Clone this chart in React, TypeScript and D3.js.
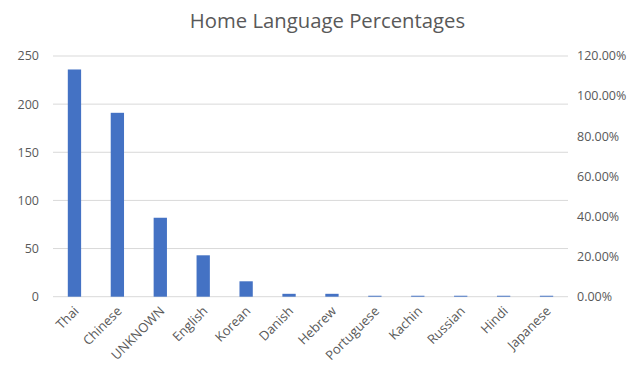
import React from "react";
import * as d3 from "d3";

const categories = ["Thai", "Chinese", "UNKNOWN", "English", "Korean", "Danish", "Hebrew", "Portuguese", "Kachin", "Russian", "Hindi", "Japanese"];
const counts = [236, 191, 82, 43, 16, 3, 3, 1, 1, 1, 1, 1];
const leftTicks = [0, 50, 100, 150, 200, 250];
const rightTicks = [0, 0.2, 0.4, 0.6, 0.8, 1.0, 1.2];

const W = 640, H = 367;
const m = { left: 53, right: 568, top: 56, bottom: 296.7 };

export default function App() {
  const x = d3.scaleBand<string>().domain(categories).range([m.left, m.right]).paddingInner(0.69).paddingOuter(0.345);
  const y = d3.scaleLinear().domain([0, 250]).range([m.bottom, m.top]);
  const y2 = d3.scaleLinear().domain([0, 1.2]).range([m.bottom, m.top]);
  const font = "'Open Sans', sans-serif";
  const gray = "#595959";
  return (
    <svg width={W} height={H} style={{ position: "absolute", left: 0, top: 0, background: "#fff" }}>
      <text x={327.5} y={28} textAnchor="middle" fontFamily={font} fontSize={20.3} fill={gray}>Home Language Percentages</text>
      {leftTicks.map((t) => (
        <line key={"g" + t} x1={m.left} x2={m.right} y1={y(t)} y2={y(t)} stroke="#d9d9d9" strokeWidth={1} />
      ))}
      {leftTicks.map((t) => (
        <text key={"l" + t} x={39} y={y(t)} dy="0.35em" textAnchor="end" fontFamily={font} fontSize={12.5} fill={gray}>{t}</text>
      ))}
      {rightTicks.map((t) => (
        <text key={"r" + t} x={577} y={y2(t)} dy="0.35em" textAnchor="start" fontFamily={font} fontSize={12.5} fill={gray}>{d3.format(".2%")(t)}</text>
      ))}
      {categories.map((c, i) => (
        <rect key={c} x={x(c)} y={y(counts[i])} width={x.bandwidth()} height={m.bottom - y(counts[i])} fill="#4472c4" />
      ))}
      {categories.map((c) => {
        const cx = (x(c) as number) + x.bandwidth() / 2 + 2;
        const cy = m.bottom + 12;
        return (
          <text key={"t" + c} transform={`translate(${cx},${cy}) rotate(-45)`} textAnchor="end" dy="0.35em" fontFamily={font} fontSize={13} fill={gray}>{c}</text>
        );
      })}
    </svg>
  );
}
